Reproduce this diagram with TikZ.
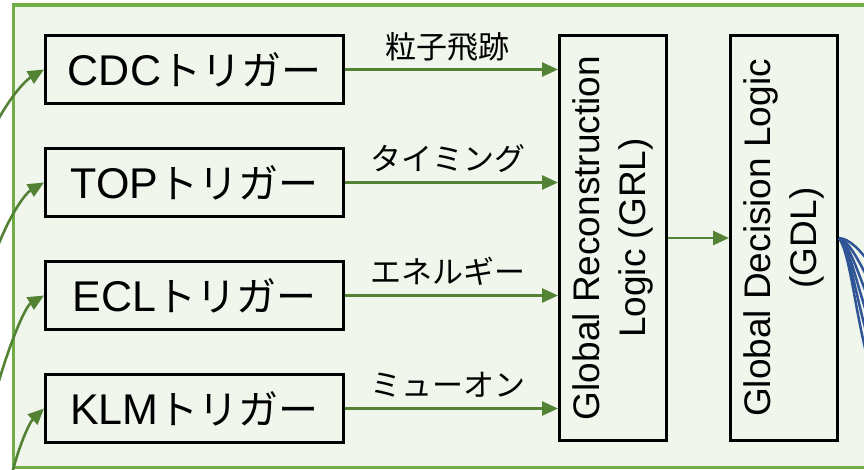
\documentclass[tikz,border=0pt]{standalone}
\usepackage{fontspec}
\setmainfont{Liberation Sans}
\newfontfamily\jp{Noto Sans CJK JP}
\usetikzlibrary{arrows.meta}
\definecolor{frameg}{RGB}{112,173,71}
\definecolor{bgg}{RGB}{240,246,236}
\definecolor{arrg}{RGB}{84,130,53}
\definecolor{blu}{RGB}{47,85,151}
\begin{document}
\begin{tikzpicture}[x=1pt,y=-1pt,
  trig/.style={draw=black,line width=3pt,minimum width=298pt,minimum height=68pt,inner sep=0pt,
    font=\fontsize{43}{50}\selectfont},
  logicbox/.style={draw=black,line width=3pt,minimum width=107pt,minimum height=405pt,inner sep=0pt},
  logictext/.style={rotate=90,align=center,inner sep=0pt,font=\fontsize{37}{46}\selectfont},
  garrow/.style={draw=arrg,line width=2.6pt,-{Triangle[length=16pt,width=14pt]}},
  elabel/.style={inner sep=0pt,font=\jp\fontsize{31}{31}\selectfont},
  bline/.style={draw=blu,line width=2.5pt}]
\useasboundingbox (0,0) rectangle (864,470);
\clip (0,0) rectangle (864,470);
\draw[frameg,line width=3.5pt,fill=bgg] (13.5,5) rectangle (900,467.5);

\node[trig] (cdc) at (194.5,69.5) {CDC\jp\fontsize{40}{40}\selectfont トリガー};
\node[trig] (top) at (194.5,182.5) {TOP\jp\fontsize{40}{40}\selectfont トリガー};
\node[trig] (ecl) at (194.5,295.5) {ECL\jp\fontsize{40}{40}\selectfont トリガー};
\node[trig] (klm) at (194.5,408.5) {KLM\jp\fontsize{40}{40}\selectfont トリガー};

\node[logicbox] (grl) at (613,238) {};
\node[logictext] (grlt) at (grl.center) {Global Reconstruction\\Logic (GRL)};
\node[logicbox] (gdl) at (784,238) {};
\node[logictext] (gdlt) at (gdl.center) {Global Decision Logic\\(GDL)};

\draw[garrow] (cdc.east) -- (cdc.east -| grl.west)
  node[elabel,midway,yshift=23pt,xshift=-4pt] (l1) {粒子飛跡};
\draw[garrow] (top.east) -- (top.east -| grl.west)
  node[elabel,midway,yshift=24pt,xshift=-4pt] (l2) {タイミング};
\draw[garrow] (ecl.east) -- (ecl.east -| grl.west)
  node[elabel,midway,yshift=24pt,xshift=-4pt] (l3) {エネルギー};
\draw[garrow] (klm.east) -- (klm.east -| grl.west)
  node[elabel,midway,yshift=24pt,xshift=-4pt] (l4) {ミューオン};
\draw[garrow] (grl.east) -- (gdl.west);

\coordinate (s1) at (-10,135);
\coordinate (s2) at (-8,262);
\coordinate (s3) at (-6,398);
\coordinate (s4) at (8,490);
\draw[garrow] (s1) .. controls (8,98) and (26,80) .. (cdc.west);
\draw[garrow] (s2) .. controls (8,215) and (26,193) .. (top.west);
\draw[garrow] (s3) .. controls (10,340) and (26,306) .. (ecl.west);
\draw[garrow] (s4) .. controls (18,445) and (30,422) .. (klm.west);

\foreach \k in {0,...,5}{
  \coordinate (o\k) at ({872-\k},{266+18*\k});
  \draw[bline] (gdl.east) .. controls (850,{239+3*\k}) and ({860-\k},{250+12*\k}) .. (o\k);
}
\end{tikzpicture}
\end{document}
